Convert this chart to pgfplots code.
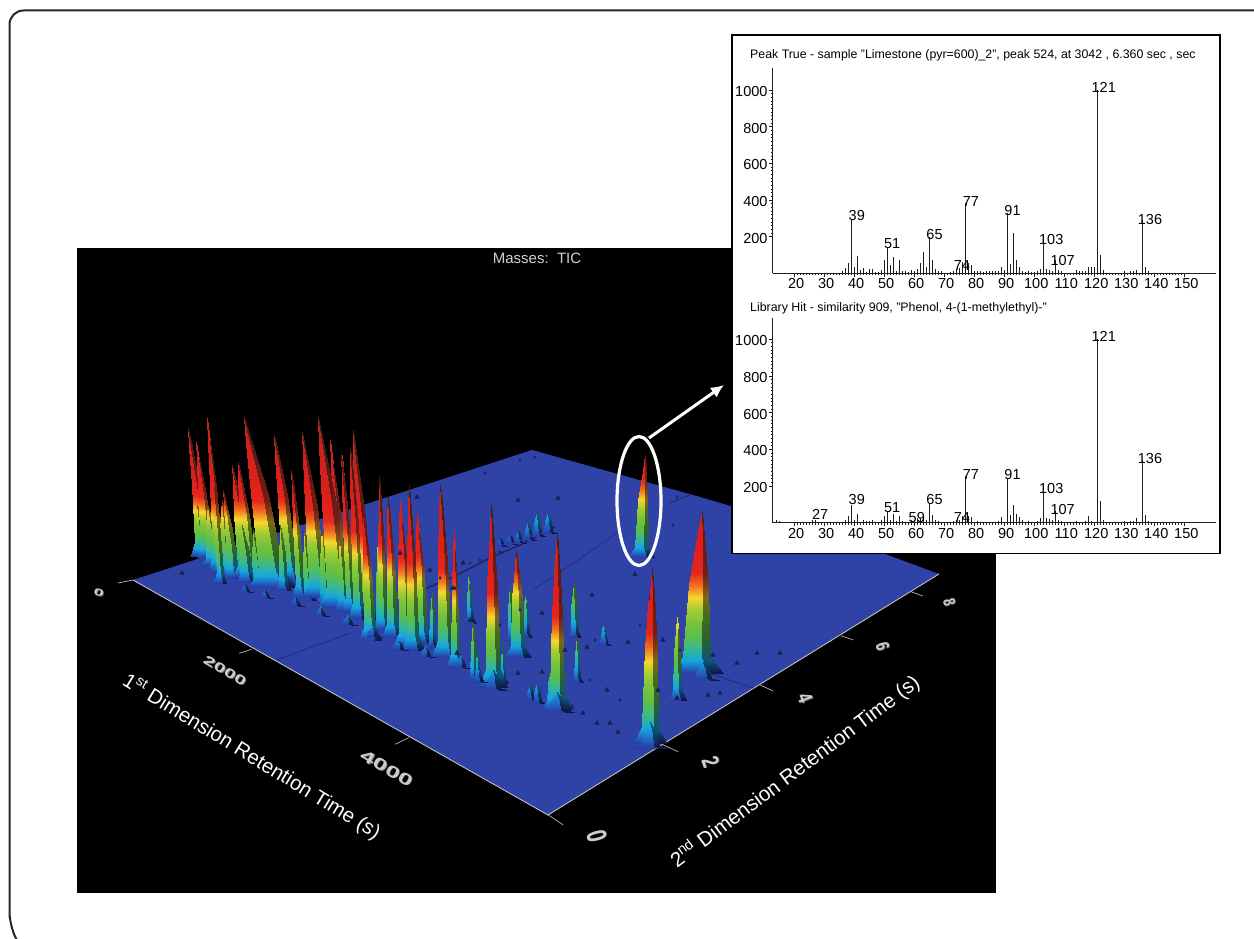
\documentclass[border=0pt]{standalone}
\usepackage{fontspec}
\setmainfont{Liberation Sans}
\usepackage{pgfplots}
\pgfplotsset{compat=1.18}
\usetikzlibrary{arrows.meta}

\definecolor{floorblue}{RGB}{47,66,166}
\definecolor{stem}{RGB}{30,30,30}

% height colours of the surface, one entry per 10 units from 0 to 250
\pgfplotsset{
  colormap={bright}{
    rgb255=(40,60,170) rgb255=(20,165,225) rgb255=(60,185,140) rgb255=(95,190,70)
    rgb255=(120,195,60) rgb255=(160,205,50) rgb255=(245,215,45) rgb255=(240,110,30)
    rgb255=(228,40,30) rgb255=(226,34,28) rgb255=(222,32,28) rgb255=(218,32,28)
    rgb255=(214,32,28) rgb255=(210,32,28) rgb255=(205,34,28) rgb255=(200,34,28)
    rgb255=(196,34,28) rgb255=(190,36,30) rgb255=(185,36,30) rgb255=(180,36,30)
    rgb255=(175,38,32) rgb255=(170,38,32) rgb255=(165,38,32) rgb255=(160,38,32)
    rgb255=(155,40,34) rgb255=(150,40,34)},
  colormap={shade}{
    rgb255=(16,22,70) rgb255=(12,85,120) rgb255=(25,95,80) rgb255=(45,100,40)
    rgb255=(60,105,35) rgb255=(80,105,30) rgb255=(125,105,25) rgb255=(125,60,20)
    rgb255=(115,30,20) rgb255=(110,28,20) rgb255=(105,28,20) rgb255=(95,28,22)
    rgb255=(88,30,24) rgb255=(80,30,24) rgb255=(75,30,26) rgb255=(70,32,28)
    rgb255=(65,32,28) rgb255=(60,32,28) rgb255=(58,32,28) rgb255=(55,32,28)
    rgb255=(52,32,28) rgb255=(52,32,28) rgb255=(52,32,28) rgb255=(52,32,28)
    rgb255=(52,32,28) rgb255=(52,32,28)},
}

% one level of a peak: level, height fraction, lean fraction, width fraction
\newcommand\lvl[4]{%
  \pgfmathsetmacro\cx{\xb+(\xt-\xb)*#3}%
  \pgfmathsetmacro\hw{\ww*#4}%
  \expandafter\pgfmathsetmacro\csname L#1\endcsname{\cx-\hw}%
  \expandafter\pgfmathsetmacro\csname R#1\endcsname{\cx+\hw}%
  \expandafter\pgfmathsetmacro\csname M#1\endcsname{\cx+0.45*\hw}%
  \expandafter\pgfmathsetmacro\csname Y#1\endcsname{\yb+(\yt-\yb)*#2}%
  \expandafter\pgfmathsetmacro\csname C#1\endcsname{\tipm*#2}%
}
\def\V#1#2{(\csname #1#2\endcsname,\csname Y#2\endcsname)[\csname C#2\endcsname] }
\def\Q#1#2#3#4{\V{#1}{#3}\V{#2}{#3}\V{#2}{#4}\V{#1}{#3}\V{#2}{#4}\V{#1}{#4}}
\def\face#1#2{\Q{#1}{#2}{0}{1}\Q{#1}{#2}{1}{2}\Q{#1}{#2}{2}{3}\V{#1}{3}\V{#2}{3}\V{#1}{4}}
% \peak[colour per pixel of height]{base x}{base y}{half width}{tip x}{tip y}
\newcommand\peak[6][0]{%
  \def\xb{#2}\def\yb{#3}\def\ww{#4}\def\xt{#5}\def\yt{#6}%
  \pgfmathsetmacro\kk{#1>0 ? #1 : 0.92+max(0,585-\yb)*0.0143-max(0,\yb-660)*0.002}%
  \pgfmathsetmacro\tipm{(\yb-\yt)*\kk}%
  \lvl{0}{0}{0}{1}\lvl{1}{0.1}{0.05}{0.5}\lvl{2}{0.55}{0.45}{0.36}%
  \lvl{3}{0.85}{0.82}{0.13}\lvl{4}{1}{1}{0}%
  \edef\tmp{\noexpand\addplot[patch,shader=interp,point meta=explicit,colormap name=bright,forget plot]
    coordinates {\face{L}{M}};
    \noexpand\addplot[patch,shader=interp,point meta=explicit,colormap name=shade,forget plot]
    coordinates {\face{M}{R}};}%
  \tmp
}
% embossed number lying on the floor
\newcommand\tnum[7]{%
  \node[text=black!55!white,rotate=#3] at (axis cs:#1+0.7,#2+0.7)
    {\scalebox{#5}[#6]{\fontsize{#4}{#4}\selectfont\bfseries #7}};
  \node[text=black!20!white,rotate=#3] at (axis cs:#1,#2)
    {\scalebox{#5}[#6]{\fontsize{#4}{#4}\selectfont\bfseries #7}};
}

\pgfplotsset{spectrum/.style={
  scale only axis, width=443pt, height=205pt,
  xmin=12.68, xmax=160.3, ymin=0,
  axis x line*=bottom, axis y line*=left,
  axis line style={-,line width=1pt,stem},
  xtick={20,30,...,150}, ytick={200,400,...,1000},
  minor x tick num=9, minor y tick num=9,
  tick align=outside,
  major tick length=3.5pt, minor tick length=2.2pt,
  every tick/.style={stem,line width=0.8pt},
  minor tick style={stem,line width=0.8pt},
  tick label style={font=\fontsize{14.5}{15}\selectfont,text=black,inner sep=1.5pt},
  xticklabel style={xshift=1.5pt},
  yticklabel style={yshift=-1.5pt},
  /pgf/number format/assume math mode=true,
  /pgf/number format/1000 sep={},
}}
\pgfplotsset{peaklabel/.style={only marks, mark=none, nodes near coords,
  point meta=explicit symbolic, forget plot,
  every node near coord/.style={anchor=center,inner sep=0pt,font=\fontsize{14.5}{15}\selectfont,text=black}}}

\begin{document}
\begin{tikzpicture}
\useasboundingbox (0,0) rectangle (1254pt,939pt);
\begin{axis}[
  scale only axis, width=1254pt, height=939pt,
  xmin=0, xmax=1254, ymin=0, ymax=939, y dir=reverse,
  hide axis, point meta min=0, point meta max=250,
]
% black panel and outer frame
\addplot[fill=black,draw=none,forget plot] coordinates {(77,248) (996,248) (996,893) (77,893)} --cycle;
\draw[line width=2pt,color=black!85,rounded corners=14pt]
  (axis cs:1270,10.5) -- (axis cs:9.5,10.5) -- (axis cs:9.5,926) -- (axis cs:9.5,926) -- (axis cs:22,950);

% floor
\addplot[fill=floorblue,draw=none,forget plot] coordinates
  {(133,580) (532,450) (700,497) (850,541) (939,574) (548,815)} --cycle;
\addplot[white!75!black,line width=0.9pt,forget plot] coordinates {(133,580) (548,815) (939,574)};
% axis ticks on the floor edges
\foreach \a/\b/\c/\d in {133/580/118/583,251.7/649.3/239.3/653.3,409/737.7/395/744.3,
    548.3/815/563.3/825,663.3/745/678.3/751.7,760/685/773.3/691,841/635.7/853.3/640,911/591.7/922.7/596}{
  \edef\tmp{\noexpand\addplot[white!70!black,line width=0.7pt,forget plot] coordinates {(\a,\b) (\c,\d)};}\tmp
}
% dark streaks on the floor
\addplot[floorblue!55!black,line width=1.4pt,forget plot] coordinates {(423,590) (455,576) (490,558) (520,545) (555,527)};
\addplot[floorblue!75!black,line width=0.8pt,forget plot] coordinates {(533,590) (575,562) (617,533)};
\addplot[floorblue!70!black,line width=0.8pt,forget plot] coordinates {(277,660) (350,633)};
\addplot[floorblue!75!black,line width=1pt,forget plot] coordinates {(700,670) (753,688)};
\addplot[floorblue!70!black,line width=1pt,forget plot] coordinates {(670,503) (690,495)};
% small dark spots
\addplot[only marks,mark=triangle*,mark size=2.6pt,color=floorblue!50!black,forget plot] coordinates {
 (628,642) (663,640) (713,655) (737,663) (658,690) (677,698) (708,695) (720,693) (607,690)
 (597,723) (610,723) (618,732) (583,713) (572,707) (542,613) (518,673) (542,672) (565,650)
 (587,647) (592,595) (635,574) (470,620) (457,653) (780,653) (757,653)
 (182,573) (417,497) (430,570) (400,553) (453,588) (463,563) (518,500) (558,498)};
\addplot[only marks,mark=diamond*,mark size=1.5pt,color=floorblue!55!black,forget plot] coordinates {
 (520,460) (535,457) (485,473) (677,497) (673,525) (470,563) (455,588) (500,552) (480,560)
 (440,578) (595,640) (640,625) (680,650) (620,700) (590,680) (500,625) (520,610) (560,600)};

% surface peaks, back to front
\peak[0.6]{500}{546}{7}{500}{538}
\peak[0.6]{510}{544}{7}{510}{535}
\peak[0.6]{518}{543}{8}{518}{530}
\peak[0.6]{528}{540}{8}{528}{522}
\peak[0.6]{537}{536}{8}{537}{512}
\peak[0.6]{548}{533}{8}{548}{512}
\peak{201}{555}{10}{188}{428}
\peak{200}{556}{10}{197}{505}
\peak{207}{557}{10}{196}{442}
\peak{212}{565}{12}{208}{505}
\peak{218}{570}{9}{207}{418}
\peak{222}{572}{12}{218}{510}
\peak{225}{575}{10}{222}{500}
\peak{233}{577}{9}{223}{490}
\peak{232}{578}{12}{228}{520}
\peak{245}{577}{13}{232}{465}
\peak{250}{580}{13}{238}{462}
\peak[1.04]{641}{557}{13}{645}{455}
\peak{220}{583}{6}{212}{470}
\peak{246}{582}{12}{242}{525}
\peak{258}{585}{10}{253}{530}
\peak{290}{580}{14}{274}{435}
\peak{275}{585}{8}{268}{533}
\peak{272}{587}{24}{244}{417}
\peak{283}{590}{8}{280}{525}
\peak{300}{597}{8}{291}{470}
\peak{308}{600}{8}{304}{530}
\peak{318}{597}{16}{302}{432}
\peak{342}{600}{9}{330}{440}
\peak{325}{603}{9}{322}{530}
\peak{350}{605}{8}{342}{455}
\peak{338}{607}{20}{318}{417}
\peak{343}{610}{9}{340}{540}
\peak{350}{612}{8}{341}{455}
\peak{365}{620}{16}{353}{430}
\peak{360}{620}{7}{355}{550}
\peak{358}{618}{9}{350}{447}
\peak[0.7]{470}{623}{6}{468}{577}
\peak[0.7]{379}{630}{5}{377}{547}
\peak{382}{630}{8}{379}{477}
\peak{392}{637}{10}{388}{497}
\peak[0.7]{526}{637}{6}{525}{597}
\peak[0.7]{510}{640}{5}{510}{587}
\peak{370}{640}{11}{363}{513}
\peak{422}{643}{11}{417}{513}
\peak[0.7]{604}{645}{7}{603}{626}
\peak{405}{647}{12}{400}{500}
\peak[0.7]{432}{647}{6}{432}{593}
\peak{413}{650}{11}{409}{485}
\peak[0.92]{518}{657}{13}{516}{550}
\peak{445}{657}{13}{440}{485}
\peak[0.75]{574}{637}{7}{574}{583}
\peak{455}{667}{8}{454}{530}
\peak[0.8]{690}{673}{12}{693}{570}
\peak[0.8]{696}{673}{27}{702}{512}
\peak[0.5]{703}{680}{16}{703}{662}
\peak[0.8]{473}{680}{6}{473}{623}
\peak[0.7]{478}{680}{5}{477}{647}
\peak[0.7]{577}{682}{6}{577}{637}
\peak[0.7]{503}{683}{5}{502}{642}
\peak[0.85]{493}{687}{14}{491}{503}
\peak[0.5]{493}{690}{14}{493}{670}
\peak[0.78]{677}{700}{9}{677}{617}
\peak[0.6]{530}{700}{7}{530}{685}
\peak[0.6]{537}{703}{7}{537}{683}
\peak[0.7]{550}{707}{7}{552}{663}
\peak[0.86]{557}{710}{14}{557}{533}
\peak[0.5]{557}{712}{17}{557}{692}
\peak[0.75]{647}{740}{9}{649}{595}
\peak[0.73]{650}{743}{16}{652}{568}
\peak[0.5]{650}{748}{18}{650}{722}
% low mounds at the foot of the peak row
\peak[0.7]{245}{592}{8}{245}{584}
\peak[0.7]{265}{598}{8}{265}{590}
\peak[0.7]{295}{606}{9}{295}{597}
\peak[0.7]{320}{616}{9}{320}{606}
\peak[0.7]{347}{625}{10}{347}{615}
\peak[0.7]{372}{637}{10}{372}{626}
\peak[0.7]{398}{650}{10}{398}{639}
\peak[0.7]{425}{657}{10}{425}{646}
\peak[0.7]{460}{668}{10}{460}{656}
\peak[0.7]{478}{682}{9}{478}{670}

% text on the black panel
\node[text=black!18!white,font=\fontsize{15}{16}\selectfont] at (axis cs:537,258) {Masses:\ \ TIC};
\node[text=white,rotate=-31.4,font=\fontsize{20.4}{22}\selectfont] at (axis cs:251.7,756.7)
  {1\textsuperscript{st} Dimension Retention Time (s)};
\node[text=white,rotate=36.9,font=\fontsize{20.6}{22}\selectfont] at (axis cs:795,771.7)
  {2\textsuperscript{nd} Dimension Retention Time (s)};
\tnum{99}{593}{-15}{14}{1.3}{0.7}{0}
\tnum{225}{671}{-30}{17}{1.25}{0.75}{2000}
\tnum{386.7}{768.3}{-30}{20}{1.3}{0.8}{4000}
\tnum{596.7}{836}{-75}{28}{0.7}{1}{0}
\tnum{710.7}{761.7}{-70}{24}{0.7}{1}{2}
\tnum{805}{698}{-70}{21}{0.7}{1}{4}
\tnum{882.7}{646.7}{-75}{19}{0.7}{1}{6}
\tnum{949.3}{602.3}{-75}{17}{0.7}{1}{8}

% white circle and arrow to the spectra
\draw[white,line width=3.2pt] (axis cs:639,501) ellipse [x radius=22, y radius=64.5];
\draw[white,line width=3pt,-{Latex[length=13pt,width=12pt]}] (axis cs:649,438) -- (axis cs:724,385);

% spectrum panel
\addplot[fill=white,draw=black,line width=1.3pt,forget plot] coordinates {(732,35) (1220,35) (1220,553.5) (732,553.5)} --cycle;
\node[anchor=west,inner sep=0pt,font=\fontsize{12.35}{13}\selectfont,text=black] at (axis cs:750,55)
  {Peak True - sample "Limestone (pyr=600)\_2", peak 524, at 3042 , 6.360 sec , sec};
\node[anchor=west,inner sep=0pt,font=\fontsize{12.35}{13}\selectfont,text=black] at (axis cs:750,308.5)
  {Library Hit - similarity 909, "Phenol, 4-(1-methylethyl)-"};
\end{axis}

\begin{axis}[spectrum, at={(772.7pt,665.7pt)}, anchor=south west, ymax=1119]
\addplot[ycomb,line width=1.3pt,color=stem,mark=none] coordinates {
 (36,15) (37,27) (38,58) (39,290) (40,36) (41,94) (42,18) (43,27) (44,5) (45,22) (46,22) (47,8) (48,8) (49,18)
 (50,73) (51,145) (52,45) (53,87) (54,15) (55,73) (56,15) (57,15) (58,5) (59,20) (60,15) (61,25) (62,55) (63,118)
 (64,36) (65,200) (66,73) (67,25) (68,15) (69,10) (70,3) (71,3) (72,5) (73,15) (74,25) (75,27) (76,60) (77,381)
 (78,58) (79,45) (80,12) (81,15) (82,10) (83,5) (84,10) (85,10) (86,10) (87,12) (88,12) (89,33) (90,18) (91,327)
 (92,50) (93,218) (94,72) (95,33) (96,12) (97,6) (98,10) (99,5) (100,5) (101,12) (102,25) (103,182) (104,22)
 (105,18) (106,14) (107,72) (108,18) (109,12) (110,3) (114,18) (115,12) (116,12) (117,10) (118,33) (119,33)
 (120,33) (121,1000) (122,100) (123,18) (124,3) (130,12) (131,3) (132,12) (133,12) (134,18) (136,290) (137,36) (138,12)};
\addplot[peaklabel] coordinates {
 (40.7,317)[39] (52.5,163)[51] (66.6,214)[65] (75.7,40)[74] (78.7,394)[77] (92.6,345)[91]
 (105.5,185)[103] (109.3,72)[107] (123,1014)[121] (138.4,296)[136]};
\end{axis}

\begin{axis}[spectrum, at={(772.7pt,416pt)}, anchor=south west, ymax=1115]
\addplot[ycomb,line width=1.3pt,color=stem,mark=none] coordinates {
 (14,15) (15,12) (26,14) (27,18) (28,3) (29,5) (37,18) (38,36) (39,100) (40,15) (41,51) (42,8) (43,15) (44,12)
 (45,12) (46,14) (47,5) (48,5) (49,14) (50,36) (51,64) (52,18) (53,49) (54,10) (55,36) (56,12) (57,8) (58,5)
 (59,14) (60,18) (61,25) (62,27) (63,36) (64,18) (65,109) (66,42) (67,18) (68,12) (69,8) (70,3) (71,3) (72,5)
 (73,12) (74,18) (75,18) (76,36) (77,254) (78,40) (79,33) (80,8) (81,12) (82,8) (83,3) (84,8) (85,8) (86,8)
 (87,8) (88,10) (89,30) (90,8) (91,245) (92,45) (93,100) (94,49) (95,30) (96,14) (97,8) (98,10) (99,5) (100,5)
 (101,10) (102,25) (103,172) (104,25) (105,22) (106,14) (107,64) (108,18) (109,12) (110,3) (114,12) (115,8)
 (116,8) (117,12) (118,40) (119,10) (121,1000) (122,118) (123,18) (124,3) (130,12) (131,3) (132,10) (133,10)
 (134,25) (136,341) (137,45) (138,10)};
\addplot[peaklabel] coordinates {
 (28.5,49)[27] (40.7,125)[39] (52.5,83)[51] (60.7,31)[59] (66.6,125)[65] (75.7,31)[74] (78.7,262)[77]
 (92.6,262)[91] (105.5,185)[103] (109.3,71)[107] (123,1012)[121] (138.4,353)[136]};
\end{axis}
\end{tikzpicture}
\end{document}
